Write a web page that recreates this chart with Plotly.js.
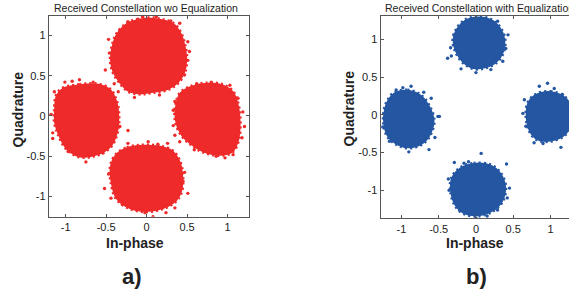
<!DOCTYPE html>
<html><head><meta charset="utf-8">
<script src="https://cdn.plot.ly/plotly-3.0.1.min.js"></script>
<style>html,body{margin:0;padding:0;background:#fff}#chart{width:569px;height:291px}</style>
</head><body><div id="chart"></div>
<script>
// ---- panel a) received constellation without equalization (cluster outlines + stray samples)
const aTopX = [-0.23,-0.11,0.02,0.18,0.33,0.42,0.47,0.49,0.46,0.38,0.25,0.08,-0.08,-0.22,-0.33,-0.41,-0.44,-0.42,-0.36];
const aTopY = [1.15,1.19,1.21,1.19,1.14,1.02,0.86,0.69,0.53,0.41,0.33,0.30,0.28,0.31,0.42,0.55,0.70,0.86,1.02];
const aLeftX = [-1.03,-0.83,-0.62,-0.46,-0.38,-0.35,-0.37,-0.45,-0.62,-0.83,-0.99,-1.08,-1.13,-1.13,-1.11];
const aLeftY = [0.34,0.38,0.39,0.33,0.19,-0.01,-0.21,-0.38,-0.48,-0.50,-0.40,-0.24,-0.08,0.09,0.25];
const aRightX = [0.42,0.55,0.74,0.94,1.07,1.13,1.15,1.13,1.06,0.90,0.70,0.54,0.42,0.36,0.37];
const aRightY = [0.28,0.36,0.40,0.38,0.29,0.12,-0.09,-0.30,-0.44,-0.48,-0.44,-0.34,-0.21,-0.04,0.15];
const aBotX = [-0.38,-0.24,-0.05,0.15,0.32,0.41,0.44,0.43,0.37,0.21,0.00,-0.21,-0.37,-0.43,-0.44];
const aBotY = [-0.49,-0.40,-0.37,-0.38,-0.44,-0.58,-0.75,-0.92,-1.04,-1.14,-1.18,-1.14,-1.02,-0.83,-0.63];
const aStrayX = [-0.51,-0.33,-0.46,0.12,0.51,0.51,0.28,-0.15,0.02,0.47,0.41,-0.23,-0.47,0.30,0.53,-0.40,0.16,-0.05,
                 -1.01,-0.83,-0.66,-1.14,-0.40,-1.16,-0.33,-0.75,-0.97,-0.54,-0.23,-1.18,-0.35,-0.50,-0.92,-1.16,
                 0.33,0.35,0.80,1.03,1.13,1.21,0.86,1.07,0.59,0.41,0.35,1.19,0.62,1.18,0.33,0.97,
                 -0.52,-0.44,0.51,0.35,0.08,-0.02,-0.23,0.02,0.26,0.41,0.45,-0.40,-0.47,0.47,-0.30,0.24,0.14];
const aStrayY = [0.57,1.06,0.78,1.23,0.92,0.69,0.38,0.23,0.30,0.51,1.15,1.17,0.95,1.18,0.80,0.40,0.26,1.23,
                 0.42,0.45,0.42,0.30,0.18,-0.21,-0.13,-0.57,-0.44,-0.46,-0.18,0.02,0.30,-0.33,0.43,-0.28,
                 0.07,0.18,0.42,0.38,0.22,-0.13,-0.50,-0.48,-0.42,-0.32,-0.24,0.05,0.40,-0.27,-0.12,-0.52,
                 -0.90,-1.02,-0.96,-1.14,-1.25,-1.20,-0.34,-0.32,-0.34,-0.63,-0.81,-0.54,-0.72,-0.70,-1.10,-1.20,-0.35];

// ---- panel b) received constellation with equalization
const bTopX = [-0.25,-0.14,0.02,0.19,0.32,0.38,0.36,0.27,0.12,-0.03,-0.17,-0.27,-0.30];
const bTopY = [1.14,1.25,1.29,1.26,1.15,1.00,0.83,0.70,0.63,0.62,0.70,0.85,1.00];
const bLeftX = [-1.10,-0.92,-0.75,-0.63,-0.57,-0.61,-0.71,-0.88,-1.05,-1.18,-1.23,-1.22,-1.17];
const bLeftY = [0.28,0.32,0.26,0.11,-0.07,-0.24,-0.37,-0.43,-0.39,-0.28,-0.11,0.07,0.20];
const bRightX = [0.82,1.00,1.20,1.30,1.20,1.00,0.82,0.72,0.68,0.71];
const bRightY = [0.27,0.30,0.22,0.00,-0.25,-0.34,-0.32,-0.20,0.00,0.17];
const bBotX = [-0.21,-0.03,0.19,0.32,0.39,0.35,0.22,0.02,-0.16,-0.27,-0.33,-0.32];
const bBotY = [-0.71,-0.65,-0.67,-0.77,-0.95,-1.14,-1.27,-1.33,-1.30,-1.20,-1.02,-0.84];
const bStrayX = [-0.38,-0.34,-0.29,0.00,0.36,0.43,0.29,-0.33,0.40,-0.20,0.20,
                 -0.87,-1.07,-0.60,-0.51,-0.49,-0.63,-0.90,-1.16,-1.25,-0.55,-0.98,-0.70,
                 0.65,0.96,0.85,1.16,1.14,0.90,0.63,0.67,0.78,1.05,
                 0.07,-0.29,0.41,-0.36,0.45,-0.22,0.00,0.29,-0.16,-0.37,0.42,0.15,-0.10];
const bStrayY = [0.75,0.89,1.06,0.56,0.71,1.06,1.24,0.78,0.88,0.61,0.60,
                 0.38,0.33,0.22,-0.02,-0.02,-0.46,-0.49,-0.35,-0.16,-0.30,0.36,0.30,
                 0.20,0.42,0.38,0.27,-0.43,-0.38,0.02,-0.15,-0.37,0.35,
                 -0.51,-0.63,-0.65,-1.00,-0.97,-1.26,-1.37,-1.26,-0.64,-0.85,-1.10,-1.34,-0.62];

const tickVals = [-1, -0.5, 0, 0.5, 1];
const tickText = ['-1', '-0.5', '0', '0.5', '1'];
const panelTitles = ['Received Constellation wo Equalization', 'Received Constellation with Equalization'];
const panelLabels = ['a)', 'b)'];
const xLabel = 'In-phase';
const yLabel = 'Quadrature';

const RED = 'rgb(238,42,42)';
const BLUE = 'rgb(36,86,162)';

function blob(x, y, color, xa, ya) {
  return {x: x.concat([x[0]]), y: y.concat([y[0]]), xaxis: xa, yaxis: ya, mode: 'lines',
    fill: 'toself', fillcolor: color, line: {color: color, width: 2, shape: 'spline', smoothing: 1},
    hoverinfo: 'skip', showlegend: false};
}
function rim(x, y, color, xa, ya) {
  return {x: x.concat([x[0]]), y: y.concat([y[0]]), xaxis: xa, yaxis: ya, mode: 'lines',
    line: {color: color, width: 4.5, dash: '2px,3px', shape: 'spline', smoothing: 1},
    hoverinfo: 'skip', showlegend: false};
}
function stray(x, y, color, xa, ya) {
  return {x: x, y: y, xaxis: xa, yaxis: ya, mode: 'markers', type: 'scatter',
    marker: {color: color, size: 3.4, symbol: 'circle'}, hoverinfo: 'skip', showlegend: false};
}

const data = [];
[[aTopX, aTopY], [aLeftX, aLeftY], [aRightX, aRightY], [aBotX, aBotY]].forEach(c => {
  data.push(blob(c[0], c[1], RED, 'x', 'y'));
  data.push(rim(c[0], c[1], RED, 'x', 'y'));
});
data.push(stray(aStrayX, aStrayY, RED, 'x', 'y'));
[[bTopX, bTopY], [bLeftX, bLeftY], [bRightX, bRightY], [bBotX, bBotY]].forEach(c => {
  data.push(blob(c[0], c[1], BLUE, 'x2', 'y2'));
  data.push(rim(c[0], c[1], BLUE, 'x2', 'y2'));
});
data.push(stray(bStrayX, bStrayY, BLUE, 'x2', 'y2'));

const W = 569, H = 291;
const px = v => v / W;
const py = v => 1 - v / H;
const tickFont = {family: 'Liberation Sans, Arial, sans-serif', size: 11, color: '#222'};
function ax(domain, range, mirror) {
  return {domain: domain, range: range, showgrid: false, zeroline: false, showline: true,
    linecolor: '#555', linewidth: 1, mirror: mirror, ticks: 'inside', ticklen: 3, tickcolor: '#555',
    tickvals: tickVals, ticktext: tickText, tickfont: tickFont, fixedrange: true};
}

const annFont = (s, b) => ({family: 'Liberation Sans, Arial, sans-serif', size: s, color: '#222', weight: b ? 'bold' : 'normal'});
const layout = {
  width: W, height: H, margin: {l: 0, r: 0, t: 0, b: 0}, paper_bgcolor: '#fff', plot_bgcolor: '#fff',
  showlegend: false,
  xaxis: ax([px(48.7), px(249.3)], [-1.21, 1.27], 'ticks'),
  yaxis: ax([py(216.7), py(16)], [-1.25, 1.24], 'ticks'),
  xaxis2: Object.assign(ax([px(380.5), 1], [-1.28, 1.248], 'ticks'), {anchor: 'y2'}),
  yaxis2: Object.assign(ax([py(218.3), py(16)], [-1.37, 1.31], false), {anchor: 'x2'}),
  annotations: [
    {text: panelTitles[0], xref: 'paper', yref: 'paper', x: px(146), y: py(8), xanchor: 'center', yanchor: 'middle', showarrow: false, font: annFont(10.5, false)},
    {text: panelTitles[1], xref: 'paper', yref: 'paper', x: px(383), y: py(8), xanchor: 'left', yanchor: 'middle', showarrow: false, font: annFont(10.5, false)},
    {text: xLabel, xref: 'paper', yref: 'paper', x: px(135), y: py(243), xanchor: 'center', yanchor: 'middle', showarrow: false, font: annFont(14, true)},
    {text: xLabel, xref: 'paper', yref: 'paper', x: px(475), y: py(243), xanchor: 'center', yanchor: 'middle', showarrow: false, font: annFont(14, true)},
    {text: yLabel, xref: 'paper', yref: 'paper', x: px(17.5), y: py(110), xanchor: 'center', yanchor: 'middle', textangle: -90, showarrow: false, font: annFont(14, true)},
    {text: yLabel, xref: 'paper', yref: 'paper', x: px(348), y: py(108.5), xanchor: 'center', yanchor: 'middle', textangle: -90, showarrow: false, font: annFont(14, true)},
    {text: panelLabels[0], xref: 'paper', yref: 'paper', x: px(131.5), y: py(276), xanchor: 'center', yanchor: 'middle', showarrow: false, font: annFont(22, true)},
    {text: panelLabels[1], xref: 'paper', yref: 'paper', x: px(477), y: py(276), xanchor: 'center', yanchor: 'middle', showarrow: false, font: annFont(22, true)}
  ]
};

Plotly.newPlot('chart', data, layout, {staticPlot: true, displayModeBar: false});
</script></body></html>
